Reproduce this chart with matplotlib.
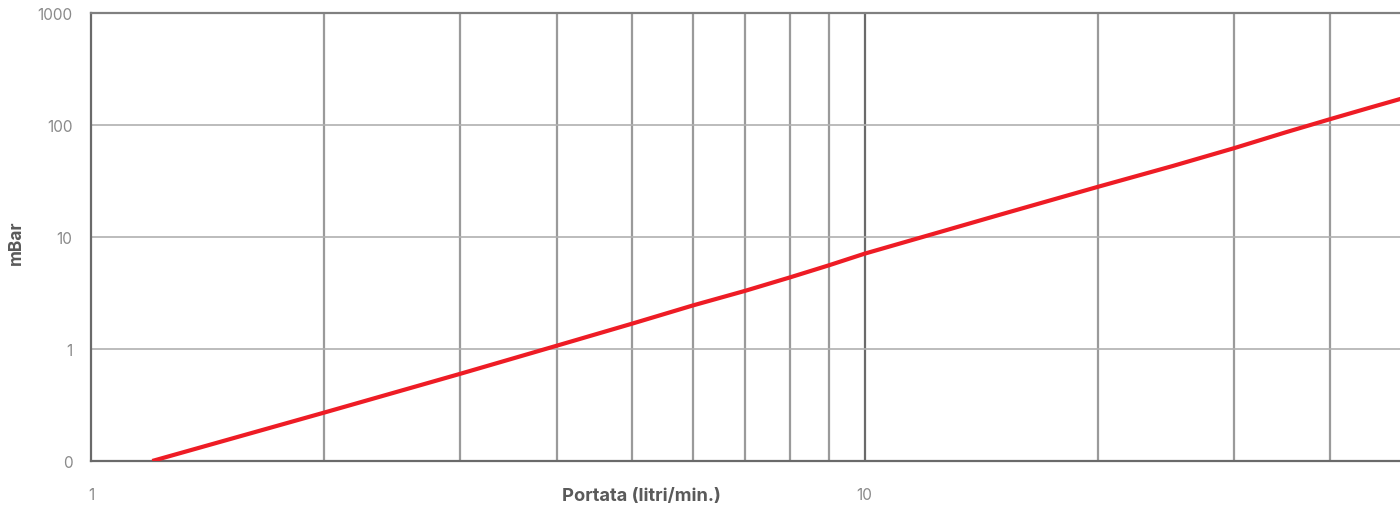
import matplotlib
matplotlib.use("Agg")
import matplotlib.pyplot as plt
from matplotlib.ticker import FixedLocator, NullFormatter

# flow rate (litri/min.) vs pressure drop (mBar)
portata = [1.2, 2, 3, 4, 5, 6, 7, 8, 9, 10, 12, 15, 20, 25, 30, 35, 40, 45, 50]
mbar = [0.1, 0.27, 0.6, 1.07, 1.68, 2.45, 3.3, 4.35, 5.6, 7.1,
        10.2, 15.9, 28, 43, 62, 86, 113, 143, 176]

y_ticks = [0.1, 1, 10, 100, 1000]
y_labels = ['0', '1', '10', '100', '1000']
x_ticks = [1, 10]
x_labels = ['1', '10']
x_minor = [2, 3, 4, 5, 6, 7, 8, 9, 20, 30, 40]

plt.rcParams['font.family'] = ['Inter', 'DejaVu Sans']

fig = plt.figure(figsize=(14, 5.06), dpi=100)
ax = fig.add_axes([0.065, 0.087, 0.935, 0.8853])

ax.set_xscale('log')
ax.set_yscale('log')
ax.set_xlim(1, 49.2)
ax.set_ylim(0.1, 1000)

# grid
for v in x_minor:
    ax.axvline(v, color='#9a9a9a', lw=1.6, zorder=1)
ax.axvline(10, color='#6a6a6a', lw=1.6, zorder=1)
for v in [1, 10, 100]:
    ax.axhline(v, color='#b0b0b0', lw=1.2, zorder=1)

ax.plot(portata, mbar, color='#ee1c25', lw=3, zorder=3, solid_capstyle='butt')

ax.yaxis.set_major_locator(FixedLocator(y_ticks))
ax.set_yticklabels(y_labels)
ax.yaxis.set_minor_formatter(NullFormatter())
ax.xaxis.set_major_locator(FixedLocator(x_ticks))
ax.set_xticklabels(x_labels)
ax.xaxis.set_minor_locator(FixedLocator([]))
ax.tick_params(axis='both', which='both', length=0, labelsize=11, labelcolor='#8a8a8a')
ax.tick_params(axis='y', pad=13.5)
ax.tick_params(axis='x', pad=18.5)

for s in ['left', 'bottom']:
    ax.spines[s].set_color('#6a6a6a')
    ax.spines[s].set_linewidth(1.6)
ax.spines['top'].set_color('#808080')
ax.spines['top'].set_linewidth(1.6)
ax.spines['right'].set_visible(False)

fig.text(16 / 1400, 1 - 243 / 506, 'mBar', rotation=90, ha='center', va='center',
         fontsize=12.5, fontweight='bold', color='#5a5a5a')
fig.text(641 / 1400, 1 - 497 / 506, 'Portata (litri/min.)', ha='center', va='center',
         fontsize=13.2, fontweight='bold', color='#5a5a5a')

fig.savefig('out.png', dpi=100)
